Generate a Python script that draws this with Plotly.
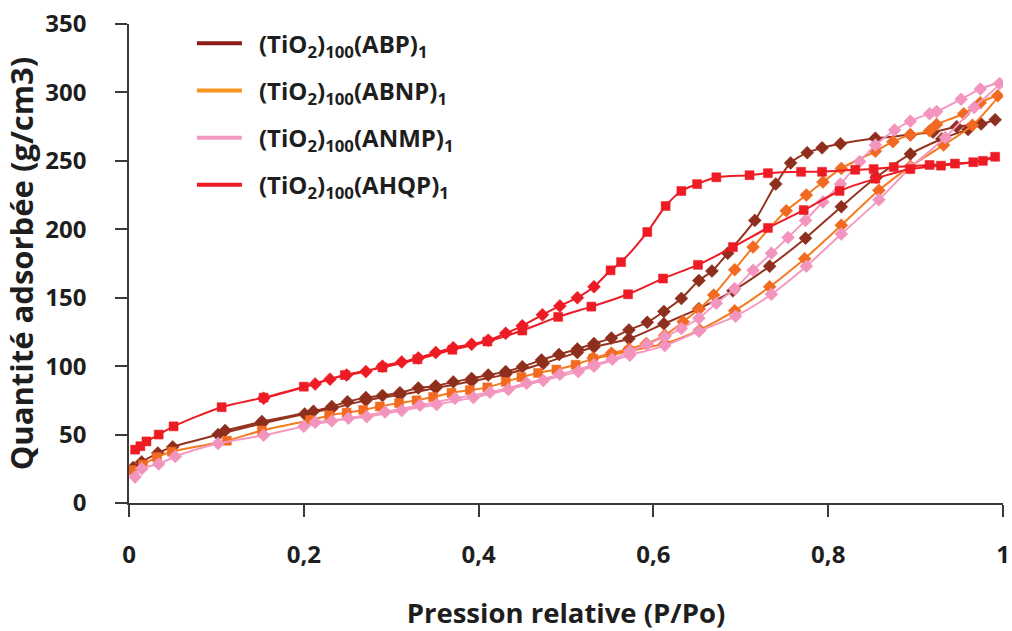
import plotly.graph_objects as go

# ---------------- data ----------------
series_names = ["ABP", "ABNP", "ANMP", "AHQP"]

abp_ads_x = [0.005, 0.0145, 0.033, 0.05, 0.102, 0.152, 0.201, 0.232, 0.271, 0.31, 0.351, 0.392, 0.431,
             0.474, 0.513, 0.532, 0.572, 0.612, 0.652, 0.691, 0.733, 0.774, 0.815, 0.855, 0.894, 0.93, 0.96, 0.991]
abp_ads_y = [26, 30, 36.5, 41, 50, 58, 65, 69, 75, 79, 84, 89, 94,
             102, 110, 114, 120, 131, 142, 155, 173, 193.5, 216.5, 238, 255, 266, 273, 280]
abp_des_x = [0.975, 0.947, 0.92, 0.894, 0.854, 0.814, 0.793, 0.776, 0.757, 0.74, 0.716, 0.685, 0.667, 0.652,
             0.632, 0.612, 0.593, 0.572, 0.552, 0.532, 0.513, 0.492, 0.472, 0.45, 0.431, 0.411, 0.392, 0.371,
             0.351, 0.331, 0.31, 0.29, 0.271, 0.25, 0.232, 0.211, 0.152, 0.11]
abp_des_y = [277, 275, 271, 269, 266.5, 262.5, 259.5, 256, 248.5, 233, 206.5, 182.5, 169.5, 162.5,
             149.5, 140, 132, 126.5, 120.5, 116.5, 112.5, 108.5, 104.5, 99.5, 96, 93.5, 91, 88.5,
             85.5, 84, 80.5, 78.5, 77, 74, 70.5, 67, 59.5, 53]

abnp_ads_x = [0.003, 0.016, 0.032, 0.049, 0.112, 0.152, 0.207, 0.229, 0.249, 0.268, 0.287, 0.309, 0.329,
              0.348, 0.369, 0.39, 0.41, 0.431, 0.449, 0.468, 0.489, 0.511, 0.531, 0.552, 0.572, 0.613,
              0.653, 0.693, 0.733, 0.773, 0.815, 0.858, 0.894, 0.932, 0.965, 0.994]
abnp_ads_y = [24, 28, 33.5, 37.5, 45.5, 53, 60.5, 64, 66, 68, 70.5, 73, 75,
              77.5, 80.5, 82.5, 84.5, 88.5, 92, 95, 97.5, 101, 105.5, 108, 111, 116.5,
              126.5, 140.5, 158, 178.5, 203, 228.5, 246, 261.5, 276, 297.5]
abnp_des_x = [0.974, 0.955, 0.924, 0.916, 0.894, 0.874, 0.854, 0.815, 0.794, 0.775, 0.752, 0.714, 0.693,
              0.669, 0.652, 0.634, 0.613, 0.592, 0.572, 0.552, 0.531]
abnp_des_y = [292.5, 284.5, 276.5, 272, 269, 264, 257, 244.5, 234.5, 225, 213.5, 187, 170.5,
              152, 141.5, 132.5, 122.5, 116.5, 112.5, 109.5, 106]

anmp_ads_x = [0.007, 0.0145, 0.034, 0.053, 0.102, 0.154, 0.2, 0.232, 0.272, 0.312, 0.352, 0.394, 0.434,
              0.474, 0.514, 0.532, 0.573, 0.613, 0.652, 0.694, 0.735, 0.775, 0.815, 0.858, 0.894, 0.934,
              0.967, 0.996]
anmp_ads_y = [19, 25, 28.5, 34, 43.5, 49.5, 56, 60, 63, 67.5, 72, 77, 83,
              89.5, 96, 100, 108, 115, 125.5, 136.5, 152.5, 173, 196.5, 221.5, 245, 267,
              289, 306.5]
anmp_des_x = [0.974, 0.952, 0.924, 0.916, 0.894, 0.876, 0.854, 0.836, 0.814, 0.794, 0.774, 0.754, 0.735,
              0.714, 0.693, 0.672, 0.652, 0.632, 0.613, 0.593, 0.573, 0.553, 0.532, 0.493, 0.455, 0.413,
              0.373, 0.333, 0.293, 0.251, 0.213]
anmp_des_y = [302.5, 295, 286, 284.5, 279, 272.5, 261.5, 249.5, 233, 220, 206.5, 194, 182.5,
              170, 156.5, 146, 135, 127.5, 121.5, 116, 111, 105, 101, 94, 87.5, 81,
              76.5, 71.5, 66.5, 62, 59]

ahqp_ads_x = [0.007, 0.013, 0.02, 0.034, 0.051, 0.106, 0.154, 0.2, 0.247, 0.29, 0.33, 0.37, 0.41, 0.45,
              0.491, 0.529, 0.571, 0.611, 0.651, 0.691, 0.731, 0.772, 0.813, 0.854, 0.894, 0.929, 0.966, 0.991]
ahqp_ads_y = [39, 41.5, 45, 50, 56, 70, 77, 85, 93.5, 99, 105, 112, 118, 126,
              136, 143.5, 152.5, 164, 174, 187, 201, 214, 228, 237, 244, 246.5, 249, 253]
ahqp_des_x = [0.977, 0.945, 0.916, 0.875, 0.852, 0.831, 0.793, 0.769, 0.731, 0.71, 0.672, 0.65, 0.632,
              0.614, 0.593, 0.563, 0.551, 0.532, 0.513, 0.493, 0.473, 0.45, 0.431, 0.411, 0.392, 0.371,
              0.351, 0.331, 0.312, 0.29, 0.271, 0.249, 0.23, 0.213, 0.154]
ahqp_des_y = [250, 248, 247, 245.5, 244, 243.5, 242, 242, 241, 239.5, 238, 233, 228,
              217, 198, 176, 170, 158, 150, 144, 137.5, 129.5, 124, 119, 116, 113.5,
              110, 106, 103, 100, 96, 93.5, 90.5, 87, 76.5]

x_tick_vals = [0, 0.2, 0.4, 0.6, 0.8, 1]
x_tick_text = ["0", "0,2", "0,4", "0,6", "0,8", "1"]
y_tick_vals = [0, 50, 100, 150, 200, 250, 300, 350]

# ---------------- styles ----------------
FONT = "Open Sans"
TXT = "#1e1e1e"
line_colors = {"ABP": "#96331F", "ABNP": "#F47B20", "ANMP": "#F49AC2", "AHQP": "#ED1C24"}
marker_colors = {"ABP": "#8E2E1C", "ABNP": "#F26A21", "ANMP": "#F294BE", "AHQP": "#ED1C24"}
legend_colors = {"ABP": "#8E1B1B", "ABNP": "#F7941D", "ANMP": "#F49AC2", "AHQP": "#ED1C24"}

data = {
    "ABP": (abp_ads_x, abp_ads_y, abp_des_x, abp_des_y),
    "ABNP": (abnp_ads_x, abnp_ads_y, abnp_des_x, abnp_des_y),
    "ANMP": (anmp_ads_x, anmp_ads_y, anmp_des_x, anmp_des_y),
    "AHQP": (ahqp_ads_x, ahqp_ads_y, ahqp_des_x, ahqp_des_y),
}


def symbols(name, ax, dx):
    if name == "AHQP":
        return ["square"] * len(ax) + ["square" if v >= 0.55 else "diamond" for v in dx]
    if name == "ABNP":
        return ["square" if v < 0.6 else "diamond" for v in ax] + ["diamond"] * len(dx)
    return ["diamond"] * (len(ax) + len(dx))


fig = go.Figure()
for name in series_names:
    ax, ay, dx, dy = data[name]
    syms = symbols(name, ax, dx)
    sizes = [9 if s == "square" else 10 for s in syms]
    fig.add_trace(go.Scatter(
        x=ax + dx, y=ay + dy, mode="lines+markers",
        line=dict(color=line_colors[name], width=2, shape="spline", smoothing=0.8),
        marker=dict(color=marker_colors[name], symbol=syms, size=sizes, opacity=1,
                    line=dict(width=0.5, color=marker_colors[name])),
        opacity=1, showlegend=False, hoverinfo="x+y", name=name,
    ))

for name in series_names:
    fig.add_trace(go.Scatter(
        x=[None], y=[None], mode="lines",
        line=dict(color=legend_colors[name], width=4),
        name="\u2002(TiO<sub>2</sub>)<sub>100</sub>(" + name + ")<sub>1</sub>",
        legendgroup=name, showlegend=True,
    ))

axis_common = dict(
    showline=True, linecolor="#3a3a3a", linewidth=1.5,
    ticks="outside", ticklen=12, tickwidth=1.5, tickcolor="#3a3a3a",
    showgrid=False, zeroline=False,
    tickfont=dict(family=FONT, size=24, color=TXT, weight="bold"),
)

fig.update_layout(
    width=1012, height=631,
    margin=dict(l=129, r=9, t=24, b=128),
    paper_bgcolor="white", plot_bgcolor="white",
    font=dict(family=FONT, color=TXT),
    xaxis=dict(range=[0, 1], tickvals=x_tick_vals, ticktext=x_tick_text,
               ticklabelstandoff=17,
               title=dict(text="Pression relative (P/Po)", standoff=35,
                          font=dict(family=FONT, size=27.5, color=TXT, weight="bold")),
               automargin=False, **axis_common),
    yaxis=dict(range=[0, 350], tickvals=y_tick_vals,
               ticklabelstandoff=24,
               title=dict(text="Quantité adsorbée (g/cm3)", standoff=7,
                          font=dict(family=FONT, size=31, color=TXT, weight="bold")),
               automargin=False, **axis_common),
    legend=dict(x=0.072, y=1.006, xanchor="left", yanchor="top",
                font=dict(family=FONT, size=24, color=TXT, weight="bold"),
                bgcolor="rgba(0,0,0,0)", tracegroupgap=13, itemwidth=45),
)

fig.write_html("out.html", config={"displayModeBar": False},
               post_script="document.body.style.margin='0';document.body.style.overflow='hidden';")
